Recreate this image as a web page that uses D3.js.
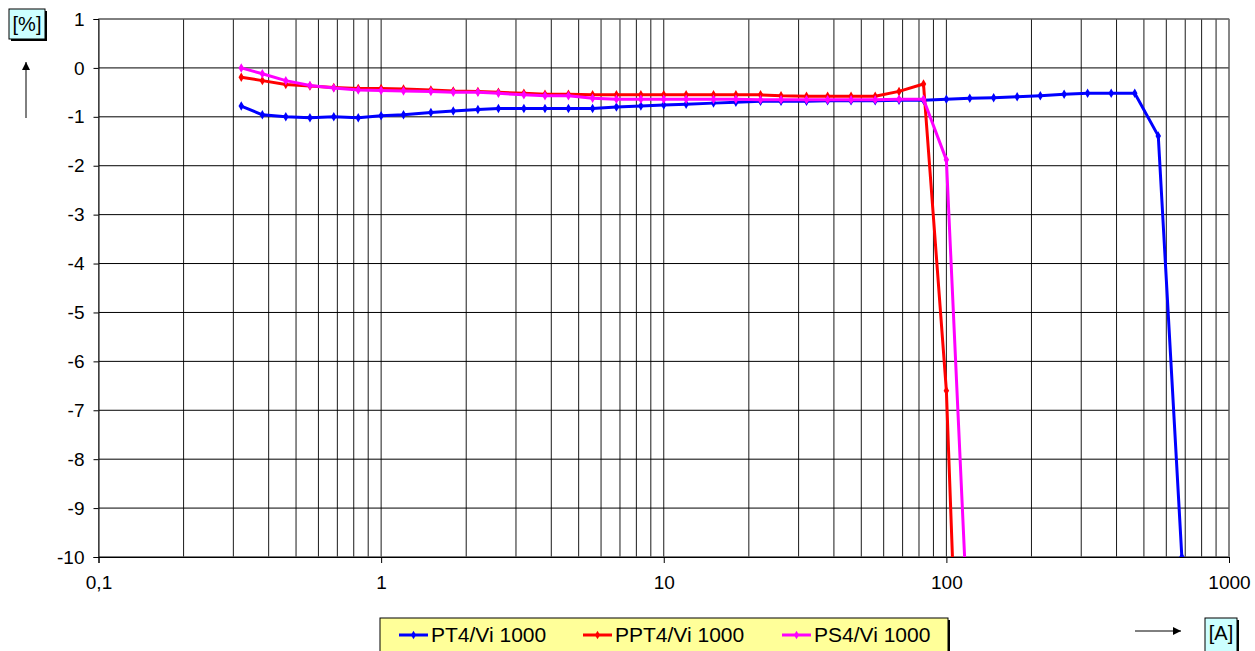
<!DOCTYPE html>
<html>
<head>
<meta charset="utf-8">
<script src="https://cdn.jsdelivr.net/npm/d3@7"></script>
<style>
  body { margin: 0; background: #fff; }
  text { font-family: "Liberation Sans", Arial, sans-serif; }
</style>
</head>
<body>
<svg></svg>
<script>
const width = 1255;
const height = 651;

// current [A]
const currents = [0.32, 0.38, 0.46, 0.56, 0.68, 0.83, 1, 1.2, 1.5, 1.8,
    2.2, 2.6, 3.2, 3.8, 4.6, 5.6, 6.8, 8.3, 10, 12,
    15, 18, 22, 26, 32, 38, 46, 56, 68, 83,
    100, 121, 147, 178, 215, 261, 316, 383, 464, 562, 681];

// error [%]
const pt4 = [-0.78, -0.96, -1.0, -1.02, -1.0, -1.02, -0.98, -0.96, -0.91, -0.88,
    -0.85, -0.83, -0.83, -0.83, -0.83, -0.83, -0.8, -0.78, -0.76, -0.745,
    -0.72, -0.7, -0.68, -0.68, -0.68, -0.67, -0.67, -0.67, -0.66, -0.66,
    -0.64, -0.62, -0.61, -0.59, -0.57, -0.54, -0.52, -0.52, -0.52, -1.39, -10];
const ppt4 = [-0.19, -0.26, -0.34, -0.37, -0.4, -0.42, -0.42, -0.43, -0.45, -0.47,
    -0.48, -0.5, -0.52, -0.54, -0.54, -0.55, -0.55, -0.55, -0.55, -0.55,
    -0.55, -0.55, -0.55, -0.57, -0.58, -0.58, -0.58, -0.58, -0.48, -0.33,
    -6.6, -19.7];
const ps4 = [0.0, -0.12, -0.26, -0.36, -0.41, -0.45, -0.46, -0.47, -0.48, -0.5,
    -0.5, -0.52, -0.55, -0.57, -0.57, -0.62, -0.64, -0.64, -0.64, -0.64,
    -0.64, -0.64, -0.65, -0.65, -0.65, -0.65, -0.65, -0.65, -0.64, -0.64,
    -1.88, -12.3];

const seriesNames = ["PT4/Vi 1000", "PPT4/Vi 1000", "PS4/Vi 1000"];
const seriesColors = ["#0000ff", "#ff0000", "#ff00ff"];
const seriesValues = [pt4, ppt4, ps4];

const xTicks = [0.1, 1, 10, 100, 1000];
const yTicks = [1, 0, -1, -2, -3, -4, -5, -6, -7, -8, -9, -10];

let svg = d3.select("svg").attr("width", width).attr("height", height);

const plot = { left: 98.5, right: 1229, top: 19, bottom: 557 };

let x = d3.scaleLog().domain([0.1, 1000]).range([plot.left, plot.right]);
let y = d3.scaleLinear().domain([-10, 1]).range([plot.bottom, plot.top]);

svg.append("clipPath").attr("id", "clip")
    .append("rect")
    .attr("x", plot.left).attr("y", plot.top)
    .attr("width", plot.right - plot.left).attr("height", plot.bottom - plot.top);

// vertical grid (log minor lines)
let minor = [];
for (let d = 0.1; d < 1000; d *= 10) {
    for (let m = 1; m < 10; m++) minor.push(+(d * m).toPrecision(3));
}
minor.push(1000);
svg.append("g")
    .selectAll("line")
    .data(minor)
    .join("line")
    .attr("x1", (d) => x(d)).attr("x2", (d) => x(d))
    .attr("y1", plot.top).attr("y2", plot.bottom)
    .style("stroke", "#1a1a1a")
    .style("stroke-width", 1);

// horizontal grid
svg.append("g")
    .selectAll("line")
    .data(yTicks)
    .join("line")
    .attr("x1", plot.left).attr("x2", plot.right)
    .attr("y1", (d) => y(d)).attr("y2", (d) => y(d))
    .style("stroke", "#000")
    .style("stroke-width", 1);

svg.append("rect")
    .attr("x", plot.left).attr("y", plot.top)
    .attr("width", plot.right - plot.left).attr("height", plot.bottom - plot.top)
    .style("fill", "none")
    .style("stroke", "#808080")
    .style("stroke-width", 1);

// axes
let xAxis = d3.axisBottom(x)
    .tickValues(xTicks)
    .tickSize(6)
    .tickPadding(13)
    .tickFormat((d) => String(d).replace(".", ","));
let gx = svg.append("g").attr("transform", `translate(0,${plot.bottom})`).call(xAxis);

let yAxis = d3.axisLeft(y)
    .tickValues(yTicks)
    .tickSize(5)
    .tickPadding(9)
    .tickFormat((d) => d3.format("d")(d).replace("−", "-"));
let gy = svg.append("g").attr("transform", `translate(${plot.left},0)`).call(yAxis);

[gx, gy].forEach((g) => {
    g.select(".domain").style("stroke", "#000");
    g.selectAll(".tick line").style("stroke", "#000");
    g.selectAll("text")
        .style("font-size", "19px")
        .style("fill", "#000")
        .style("font-family", "'Liberation Sans', Arial, sans-serif");
});

// series
let line = d3.line()
    .x((d) => x(d[0]))
    .y((d) => y(d[1]));

let chart = svg.append("g").attr("clip-path", "url(#clip)");
seriesValues.forEach((vals, i) => {
    let pts = vals.map((v, j) => [currents[j], v]);
    chart.append("path")
        .attr("d", line(pts))
        .style("fill", "none")
        .style("stroke", seriesColors[i])
        .style("stroke-width", 3)
        .style("stroke-linejoin", "round");
    chart.append("g")
        .selectAll("path")
        .data(pts)
        .join("path")
        .attr("d", d3.symbol(d3.symbolDiamond, 26))
        .attr("transform", (d) => `translate(${x(d[0])},${y(d[1])})`)
        .style("fill", seriesColors[i]);
});

// axis unit boxes with arrows
function labelBox(bx, by, bw, bh, txt) {
    let g = svg.append("g");
    g.append("rect")
        .attr("x", bx + 2).attr("y", by + 2)
        .attr("width", bw).attr("height", bh)
        .style("fill", "#000");
    g.append("rect")
        .attr("x", bx).attr("y", by)
        .attr("width", bw).attr("height", bh)
        .style("fill", "#ccffff")
        .style("stroke", "#000")
        .style("stroke-width", 1);
    g.append("text")
        .attr("x", bx + bw / 2).attr("y", by + 22)
        .attr("text-anchor", "middle")
        .style("font-size", "20px")
        .text(txt);
}

svg.append("defs").append("marker")
    .attr("id", "arrow")
    .attr("viewBox", "0 0 10 10")
    .attr("refX", 10).attr("refY", 5)
    .attr("markerWidth", 8).attr("markerHeight", 8)
    .attr("markerUnits", "userSpaceOnUse")
    .attr("orient", "auto")
    .append("path")
    .attr("d", "M0,0 L10,5 L0,10 z")
    .style("fill", "#000");

labelBox(9, 9, 36, 30, "[%]");
svg.append("line")
    .attr("x1", 26).attr("y1", 118).attr("x2", 26).attr("y2", 62)
    .style("stroke", "#000").style("stroke-width", 1)
    .attr("marker-end", "url(#arrow)");

labelBox(1205, 618, 32, 36, "[A]");
svg.append("line")
    .attr("x1", 1135).attr("y1", 631).attr("x2", 1181).attr("y2", 631)
    .style("stroke", "#000").style("stroke-width", 1)
    .attr("marker-end", "url(#arrow)");

// legend
let legend = svg.append("g");
legend.append("rect")
    .attr("x", 382).attr("y", 620)
    .attr("width", 568).attr("height", 40)
    .style("fill", "#000");
legend.append("rect")
    .attr("x", 380).attr("y", 618)
    .attr("width", 568).attr("height", 40)
    .style("fill", "#ffff99")
    .style("stroke", "#000")
    .style("stroke-width", 1);
const legendX = [399, 583, 782];
seriesNames.forEach((name, i) => {
    let lg = legend.append("g").attr("transform", `translate(${legendX[i]},635)`);
    lg.append("line")
        .attr("x1", 0).attr("x2", 29)
        .style("stroke", seriesColors[i]).style("stroke-width", 3);
    lg.append("path")
        .attr("d", d3.symbol(d3.symbolDiamond, 22))
        .attr("transform", "translate(14.5,0)")
        .style("fill", seriesColors[i]);
    lg.append("text")
        .attr("x", 32).attr("y", 7)
        .style("font-size", "21px")
        .text(name);
});
</script>
</body>
</html>
